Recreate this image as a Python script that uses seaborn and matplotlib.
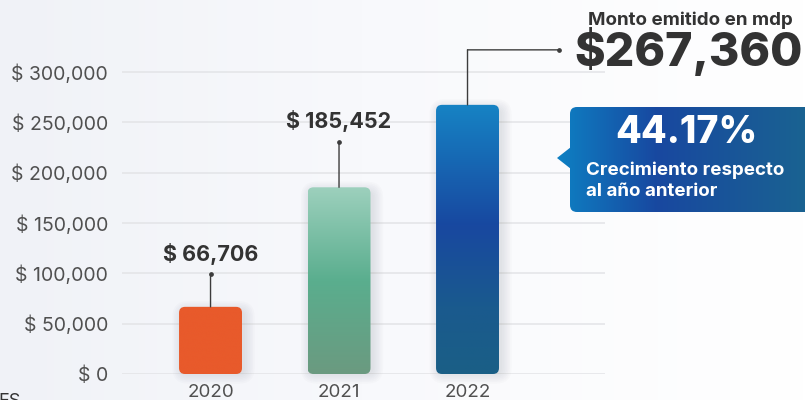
import numpy as np
import pandas as pd
import matplotlib
matplotlib.use("Agg")
import matplotlib.pyplot as plt
import matplotlib.transforms as mtransforms
from matplotlib.colors import LinearSegmentedColormap
from matplotlib.patches import FancyBboxPatch, Polygon
from matplotlib.ticker import FuncFormatter, FixedLocator
import seaborn as sns

# ---- data -------------------------------------------------------------
years = ["2020", "2021", "2022"]
amounts = [66706, 185452, 267360]
y_ticks = [0, 50000, 100000, 150000, 200000, 250000, 300000]
headline = "Monto emitido en mdp"
growth_caption = ["Crecimiento respecto", "al año anterior"]

# ---- style ------------------------------------------------------------
sns.set_theme(style="white")
plt.rcParams["font.family"] = ["Inter", "DejaVu Sans"]

W, H = 805, 400
fig = plt.figure(figsize=(W / 100, H / 100), dpi=100)


def vgrad(stops, n=256):
    """Vertical gradient image (top row first) from (pos, color) stops."""
    cmap = LinearSegmentedColormap.from_list("g", stops)
    return cmap(np.linspace(0, 1, n))[:, None, :]


def hgrad(stops, n=256):
    cmap = LinearSegmentedColormap.from_list("g", stops)
    return cmap(np.linspace(0, 1, n))[None, :, :]


# page background
bg = fig.add_axes([0, 0, 1, 1], zorder=-10)
bg.imshow(hgrad([(0, "#f0f2f7"), (0.45, "#f8f9fc"), (1, "#ffffff")]),
          extent=(0, 1, 0, 1), aspect="auto")
bg.set_axis_off()

# ---- main bar chart ---------------------------------------------------
ax_l, ax_r, ax_b, ax_t = 122, 605, 374, 40
ax = fig.add_axes([ax_l / W, 1 - ax_b / H, (ax_r - ax_l) / W, (ax_b - ax_t) / H])
ax.patch.set_alpha(0)

df = pd.DataFrame({"year": years, "amount": amounts})
sns.barplot(data=df, x="year", y="amount", ax=ax, width=0.49,
            color="#cccccc", saturation=1, errorbar=None)

xlim = (-0.689, 3.07)
ylim = (0, (ax_b - ax_t) / 1.00667 * 1000)
ax.set_xlim(*xlim)
ax.set_ylim(*ylim)

ax.yaxis.set_major_locator(FixedLocator(y_ticks))
ax.yaxis.set_major_formatter(FuncFormatter(lambda v, _: f"$ {int(v):,}"))
ax.yaxis.grid(True, color="#e3e4e7", lw=1.1)
ax.xaxis.grid(False)
ax.set_axisbelow(True)
for s in ax.spines.values():
    s.set_visible(False)
ax.tick_params(axis="y", length=0, pad=10, labelsize=14, labelcolor="#505050")
ax.tick_params(axis="x", length=0, pad=7, labelsize=13.5, labelcolor="#505050")
ax.set_xlabel("")
ax.set_ylabel("")

# pixel scale of each data unit, for corner rounding
px_x = (ax_r - ax_l) / (xlim[1] - xlim[0])
px_y = (ax_b - ax_t) / (ylim[1] - ylim[0])
aspect = px_x / px_y
radius_px = 6

bar_fills = [
    vgrad([(0, "#e85a2b"), (1, "#e85a2b")]),
    vgrad([(0, "#9dd0bd"), (0.5, "#5aae8e"), (1, "#6b9a80")]),
    vgrad([(0, "#1683c4"), (0.45, "#1848a0"), (0.75, "#1a5a8e"), (1, "#1a5f86")]),
]

for patch, fill in zip(ax.patches, bar_fills):
    x0, w, h = patch.get_x(), patch.get_width(), patch.get_height()
    patch.set_visible(False)
    r = radius_px / px_x
    # soft drop shadow
    for k in range(7):
        grow = (k * 1.6) / px_x
        sh = FancyBboxPatch(
            (x0 + 3 / px_x - grow, -grow * aspect), w + 2 * grow, h + 2 * grow * aspect - 4 / px_y,
            boxstyle=f"round,pad=0,rounding_size={r + grow}",
            mutation_aspect=aspect, facecolor="#6a6f7a", edgecolor="none",
            alpha=0.022, zorder=1.5, clip_on=False)
        ax.add_patch(sh)
    box = FancyBboxPatch((x0, 0), w, h, boxstyle=f"round,pad=0,rounding_size={r}",
                         mutation_aspect=aspect, facecolor="none", edgecolor="none",
                         zorder=2)
    ax.add_patch(box)
    im = ax.imshow(fill, extent=(x0, x0 + w, 0, h), aspect="auto", zorder=2,
                   origin="upper", interpolation="bilinear")
    im.set_clip_path(box)

ax.set_xlim(*xlim)
ax.set_ylim(*ylim)

# ---- leader lines and value labels --------------------------------------
lead_color = "#3c3c3c"
leaders = [33, 45]          # stem length in pixels for the first two bars
label_gap = [20, 21]
for i in range(2):
    v = amounts[i]
    L = leaders[i]
    ax.annotate("", xy=(i, v), xytext=(0, L), textcoords="offset pixels",
                arrowprops=dict(arrowstyle="-", color=lead_color, lw=1,
                                shrinkA=0, shrinkB=0), zorder=3)
    tr = mtransforms.offset_copy(ax.transData, fig=fig, x=0, y=L, units="dots")
    ax.plot([i], [v], marker="o", ms=2.4, color=lead_color, transform=tr, zorder=3)
    ax.annotate(f"$ {v:,}", xy=(i, v), xytext=(0, L + label_gap[i]),
                textcoords="offset pixels", ha="center", va="center",
                fontsize=15.5, fontweight="bold", color="#333333", zorder=4)

# last bar: elbow leader out to the headline figure
v = amounts[2]
tr_up = mtransforms.offset_copy(ax.transData, fig=fig, x=0, y=55, units="dots")
tr_end = mtransforms.offset_copy(ax.transData, fig=fig, x=91.5, y=55, units="dots")
ax.annotate("", xy=(2, v), xytext=(0, 55), textcoords="offset pixels",
            arrowprops=dict(arrowstyle="-", color=lead_color, lw=1, shrinkA=0, shrinkB=0),
            zorder=3, annotation_clip=False)
ax.annotate("", xy=(2, v), xycoords=tr_up, xytext=(91.5, 0), textcoords="offset pixels",
            arrowprops=dict(arrowstyle="-", color=lead_color, lw=1, shrinkA=0, shrinkB=0),
            zorder=3, annotation_clip=False)
ax.plot([2], [v], marker="o", ms=2.4, color=lead_color, transform=tr_end,
        zorder=3, clip_on=False)
ax.annotate(f"${v:,}", xy=(2, v), xytext=(107, 53), textcoords="offset pixels",
            ha="left", va="center", fontsize=33.5, fontweight="heavy",
            color="#333333", annotation_clip=False, zorder=4)

# ---- overlay in pixel coordinates: headline and growth callout ---------
ov = fig.add_axes([0, 0, 1, 1], zorder=5)
ov.set_xlim(0, W)
ov.set_ylim(H, 0)
ov.set_axis_off()
ov.patch.set_alpha(0)

ov.text(690, 20, headline, ha="center", va="center", fontsize=13.5,
        fontweight="bold", color="#333333")

growth = (amounts[2] / amounts[1] - 1) * 100
callout_fill = hgrad([(0, "#0e80c3"), (0.38, "#1848a0"), (1, "#1a6590")])
box = FancyBboxPatch((570, 107), 250, 105, boxstyle="round,pad=0,rounding_size=7",
                     facecolor="none", edgecolor="none")
tri = Polygon([(571, 147), (557, 158), (571, 169)], closed=True,
              facecolor="none", edgecolor="none")
ov.add_patch(box)
ov.add_patch(tri)
for clip in (box, tri):
    im = ov.imshow(callout_fill, extent=(557, 820, 212, 107), aspect="auto",
                   origin="upper", interpolation="bilinear")
    im.set_clip_path(clip)
ov.set_xlim(0, W)
ov.set_ylim(H, 0)

ov.text(686, 133, f"{growth:.2f}%", ha="center", va="center", fontsize=27,
        fontweight="heavy", color="white")
ov.text(586, 170, growth_caption[0], ha="left", va="center", fontsize=13.5,
        fontweight="bold", color="white")
ov.text(586, 192, growth_caption[1], ha="left", va="center", fontsize=13.5,
        fontweight="bold", color="white")

# footer text running off the lower-left corner
ov.text(-2, 393, "ES", ha="left", va="top", fontsize=13, color="#333333")

fig.savefig("out.png", dpi=100)
